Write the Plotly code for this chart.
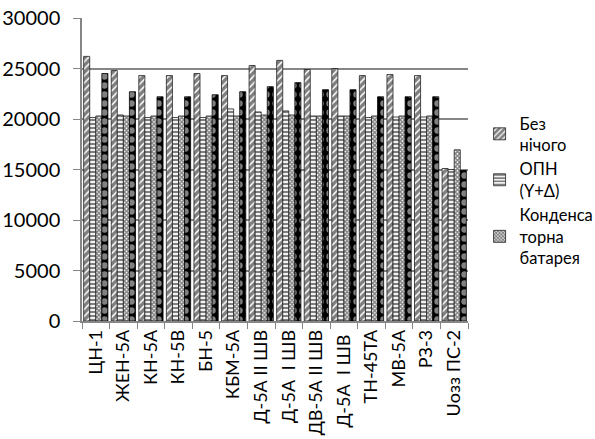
import plotly.graph_objects as go

categories = ["ЦН-1", "ЖЕН-5А", "КН-5А", "КН-5В", "БН-5", "КБМ-5А", "Д-5А II ШВ",
              "Д-5А  I ШВ", "ДВ-5А II ШВ", "Д-5А  I ШВ ", "ТН-45ТА", "МВ-5А", "РЗ-3", "Uозз ПС-2"]

bez_nichogo = [26200, 24800, 24300, 24300, 24500, 24300, 25300, 25800, 24900, 25000, 24300, 24400, 24300, 15100]
opn = [20150, 20400, 20150, 20150, 20150, 21000, 20700, 20800, 20300, 20300, 20150, 20200, 20200, 15000]
kond_bat = [20300, 20300, 20300, 20300, 20300, 20300, 20400, 20400, 20300, 20300, 20300, 20300, 20300, 16950]
series4 = [24500, 22700, 22200, 22200, 22400, 22700, 23200, 23600, 22900, 22900, 22200, 22200, 22200, 14900]

names = ["Без<br>нічого", "ОПН<br>(Y+Δ)", "Конденса<br>торна<br>батарея", "Ряд 4"]
y_ticks = [0, 5000, 10000, 15000, 20000, 25000, 30000]

FONT = "Lato"

fig = go.Figure()
fig.add_trace(go.Bar(
    x=categories, y=bez_nichogo, name=names[0],
    marker=dict(color="white", line=dict(color="#222222", width=0.8),
                pattern=dict(shape="/", fgcolor="black", bgcolor="white", size=5, solidity=0.7)),
))
fig.add_trace(go.Bar(
    x=categories, y=opn, name=names[1],
    marker=dict(color="white", line=dict(color="#222222", width=0.8),
                pattern=dict(shape="-", fgcolor="black", bgcolor="white", size=4, solidity=0.55)),
))
fig.add_trace(go.Bar(
    x=categories, y=kond_bat, name=names[2],
    marker=dict(color="white", line=dict(color="#222222", width=0.8),
                pattern=dict(shape="x", fgcolor="black", bgcolor="white", size=3, solidity=0.7)),
))
fig.add_trace(go.Bar(
    x=categories, y=series4, name=names[3], showlegend=False,
    marker=dict(color="black", line=dict(color="black", width=0.8),
                pattern=dict(shape=".", fgcolor="white", bgcolor="black", size=9, solidity=0.4)),
))

fig.update_layout(
    width=595, height=439,
    margin=dict(l=82, r=127, t=18, b=118, autoexpand=False),
    paper_bgcolor="white", plot_bgcolor="white",
    font=dict(family=FONT, size=18, color="black"),
    barmode="group", bargap=0.12, bargroupgap=0,
    legend=dict(x=1.03, y=0.71, xanchor="left", yanchor="top",
                font=dict(family=FONT, size=16.5), tracegroupgap=0,
                itemwidth=30, bgcolor="rgba(0,0,0,0)"),
    showlegend=True,
)
fig.update_xaxes(
    tickangle=-90, showline=True, linecolor="#868686", linewidth=1.5,
    ticks="outside", ticklen=6, tickcolor="#868686", tickson="boundaries",
    tickfont=dict(family=FONT, size=18), showgrid=False, automargin=False,
)
fig.update_yaxes(
    range=[0, 30000], tickvals=y_ticks, ticktext=[str(v) for v in y_ticks],
    showline=True, linecolor="#868686", linewidth=1.5,
    ticks="outside", ticklen=7, tickcolor="#868686", ticklabelstandoff=9,
    showgrid=True, gridcolor="#868686", gridwidth=1.5, zeroline=False,
    tickfont=dict(family=FONT, size=20), automargin=False,
)

fig.write_html("out.html", config={"displayModeBar": False},
               post_script="document.body.style.margin='0';")
